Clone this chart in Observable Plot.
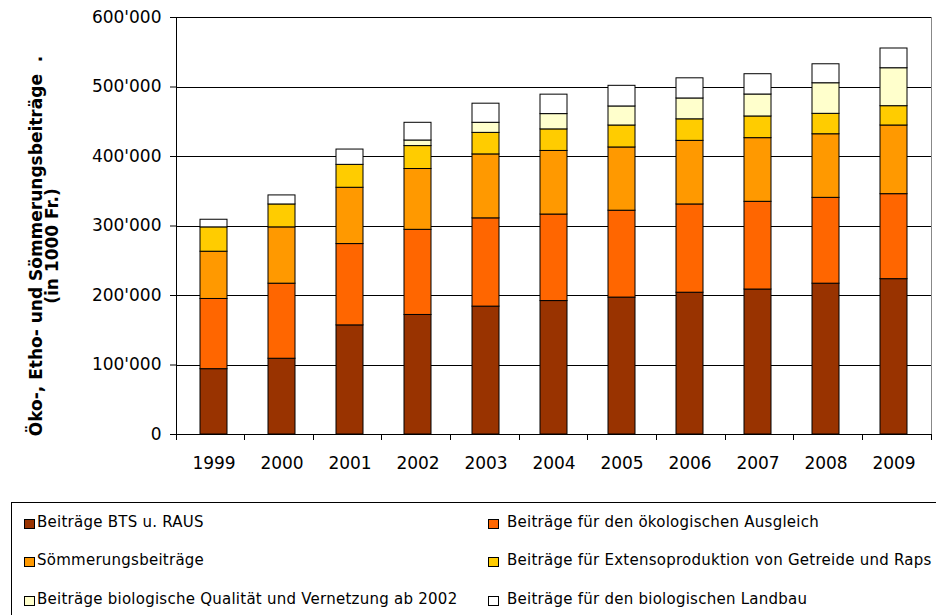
<!DOCTYPE html>
<html>
<head>
<meta charset="utf-8">
<script src="https://cdn.jsdelivr.net/npm/d3@7"></script>
<script src="https://cdn.jsdelivr.net/npm/@observablehq/plot@0.6"></script>
<style>
  body { margin: 0; background: #fff; width: 936px; height: 615px; overflow: hidden; position: relative; font-family: "DejaVu Sans", Verdana, sans-serif; }
  #chart { position: absolute; left: 0; top: 0; }
  #legend { position: absolute; left: 11px; top: 502px; width: 960px; height: 140px; border: 1px solid #000; box-sizing: border-box; }
  .item { position: absolute; font-family: "DejaVu Sans", sans-serif; font-size: 15px; letter-spacing: 0.25px; color: #000; white-space: nowrap; line-height: 16px; }
  .sw { position: absolute; width: 9px; height: 8px; border: 1px solid #000; }
</style>
</head>
<body>
<div id="chart"></div>
<div id="legend"></div>
<script>
const years = ["1999","2000","2001","2002","2003","2004","2005","2006","2007","2008","2009"];
const seriesNames = [
  "Beiträge BTS u. RAUS",
  "Beiträge für den ökologischen Ausgleich",
  "Sömmerungsbeiträge",
  "Beiträge für Extensoproduktion von Getreide und Raps",
  "Beiträge biologische Qualität und Vernetzung ab 2002",
  "Beiträge für den biologischen Landbau"
];
const seriesColors = ["#993300", "#FF6600", "#FF9900", "#FFCC00", "#FFFFCC", "#FFFFFF"];
const btsRaus     = [94000, 109000, 157000, 172000, 184000, 192000, 197000, 204000, 208600, 217000, 223500];
const ausgleich   = [101000, 108000, 117000, 122500, 127000, 124500, 125000, 127000, 126200, 123500, 122300];
const soemmerung  = [68000, 81000, 81000, 87500, 92000, 91500, 91000, 91500, 91600, 91500, 98800];
const extenso     = [35000, 33000, 33000, 33000, 31000, 31000, 31600, 31000, 31200, 29400, 27800];
const bioQualitaet= [0, 0, 0, 8000, 14500, 22000, 27400, 30000, 31600, 44000, 54600];
const bioLandbau  = [11000, 13000, 22000, 25500, 27500, 28000, 29700, 29000, 29200, 27300, 28400];
const yTicks = [0, 100000, 200000, 300000, 400000, 500000, 600000];
const yTitle = "Öko-, Etho- und Sömmerungsbeiträge  .\n(in 1000 Fr.)";

const seriesValues = [btsRaus, ausgleich, soemmerung, extenso, bioQualitaet, bioLandbau];
const rows = [];
seriesNames.forEach((s, i) => years.forEach((y, j) => rows.push({year: y, series: s, value: seriesValues[i][j]})));

const fmt = d => d3.format(",")(d).replace(/,/g, "'");

// category-boundary ticks and black left axis line, derived from plot dimensions
const boundaryMark = (index, scales, values, dimensions) => {
  const {width, height, marginLeft, marginRight, marginTop, marginBottom} = dimensions;
  const step = (width - marginLeft - marginRight) / years.length;
  const g = d3.create("svg:g");
  const y0 = height - marginBottom;
  for (let k = 0; k <= years.length; k++) {
    const x = marginLeft + k * step;
    g.append("line").attr("x1", x).attr("x2", x).attr("y1", y0).attr("y2", y0 + 6)
      .attr("stroke", "#000").attr("shape-rendering", "crispEdges");
  }
  g.append("line").attr("x1", marginLeft).attr("x2", marginLeft).attr("y1", marginTop).attr("y2", y0)
    .attr("stroke", "#000").attr("shape-rendering", "crispEdges");
  return g.node();
};

const chart = Plot.plot({
  width: 936,
  height: 492,
  marginLeft: 176,
  marginRight: 5,
  marginTop: 17,
  marginBottom: 58,
  style: {fontFamily: "'DejaVu Sans', Verdana, sans-serif", fontSize: "17px", color: "#000", background: "#fff"},
  x: {domain: years, paddingInner: 0.6, paddingOuter: 0.3, label: null},
  y: {domain: [0, 600000], label: null},
  color: {domain: seriesNames, range: seriesColors},
  marks: [
    Plot.frame({stroke: "#888", shapeRendering: "crispEdges"}),
    Plot.ruleY(yTicks, {stroke: "#000", shapeRendering: "crispEdges"}),
    Plot.barY(rows, Plot.stackY({x: "year", y: "value", fill: "series", order: seriesNames, stroke: "#000", strokeWidth: 1})),
    Plot.axisY({ticks: yTicks, tickFormat: fmt, tickSize: 6, tickPadding: 9, fontSize: "17px", label: null}),
    Plot.axisX({tickSize: 0, tickPadding: 22, fontSize: "17px", label: null}),
    boundaryMark,
    Plot.text([yTitle], {frameAnchor: "left", textAnchor: "middle", lineAnchor: "middle", rotate: -90, dx: -132, dy: 20, fontWeight: "bold", fontSize: 17, lineHeight: 0.95, fill: "#000"})
  ]
});
document.getElementById("chart").appendChild(chart);

// legend (positions relative to the legend box)
const legend = document.getElementById("legend");
const swatchPos = [[12, 16], [476, 16], [12, 54], [476, 54], [12, 93], [476, 93]];
const labelPos  = [[25, 11], [495, 11], [25, 49], [495, 49], [25, 88], [495, 88]];
seriesNames.forEach((s, i) => {
  const sw = document.createElement("div");
  sw.className = "sw";
  sw.style.left = swatchPos[i][0] + "px";
  sw.style.top = swatchPos[i][1] + "px";
  sw.style.background = seriesColors[i];
  legend.appendChild(sw);
  const d = document.createElement("div");
  d.className = "item";
  d.style.left = labelPos[i][0] + "px";
  d.style.top = labelPos[i][1] + "px";
  d.textContent = s;
  legend.appendChild(d);
});
</script>
</body>
</html>
